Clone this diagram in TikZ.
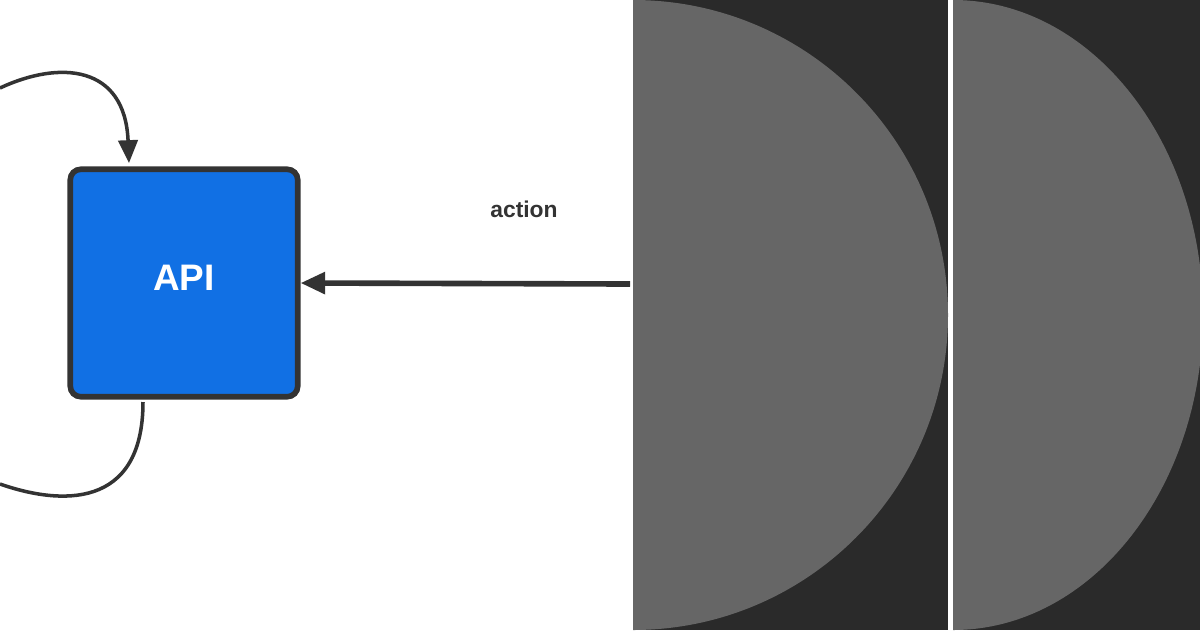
\documentclass[tikz,border=0pt]{standalone}
\usepackage{fontspec}
\setmainfont{Liberation Sans}
\usetikzlibrary{arrows.meta}
\definecolor{dk}{HTML}{333333}
\definecolor{panel}{HTML}{2A2A2A}
\definecolor{disc}{HTML}{666666}
\definecolor{blu}{HTML}{1170E4}
\tikzset{conn/.style={draw=dk,line width=3.2pt,-{Triangle[length=14pt,width=12pt]}},
 loopline/.style={draw=dk,line width=2pt}}
\begin{document}
\begin{tikzpicture}[x=0.02cm,y=-0.02cm]
\useasboundingbox (0,0) rectangle (1200,630);
\fill[white] (0,0) rectangle (1200,630);
\begin{scope}
\clip (633,0) rectangle (948,630);
\fill[panel] (633,0) rectangle (948,630);
\fill[disc] (633,315) circle[radius=315];
\end{scope}
\begin{scope}
\clip (953,0) rectangle (1200,630);
\fill[panel] (953,0) rectangle (1200,630);
\fill[disc] (953,315) ellipse[x radius=250,y radius=315];
\end{scope}
\node[draw=dk,line width=3.2pt,fill=blu,rounded corners=6pt,minimum width=4.55cm,minimum height=4.55cm,inner sep=0pt,
 text=white,font=\bfseries\fontsize{21}{25}\selectfont] (api) at (184,283) {\raisebox{6pt}{API}};
\coordinate (src) at (630,284);
\draw[conn] (src) -- (api.east);
\node[text=dk,font=\bfseries\fontsize{13}{15}\selectfont] (lbl) at (524,209) {action};
\coordinate (t0) at (0,88);
\coordinate (ttop) at (129,163);
\draw[loopline,-{Triangle[length=13pt,width=11pt]}] (t0) .. controls (60,60) and (125,65) .. (ttop);
\coordinate (b0) at (143,402);
\coordinate (b1) at (0,484);
\draw[loopline] (b0) .. controls (143,510) and (60,505) .. (b1);
\end{tikzpicture}
\end{document}
